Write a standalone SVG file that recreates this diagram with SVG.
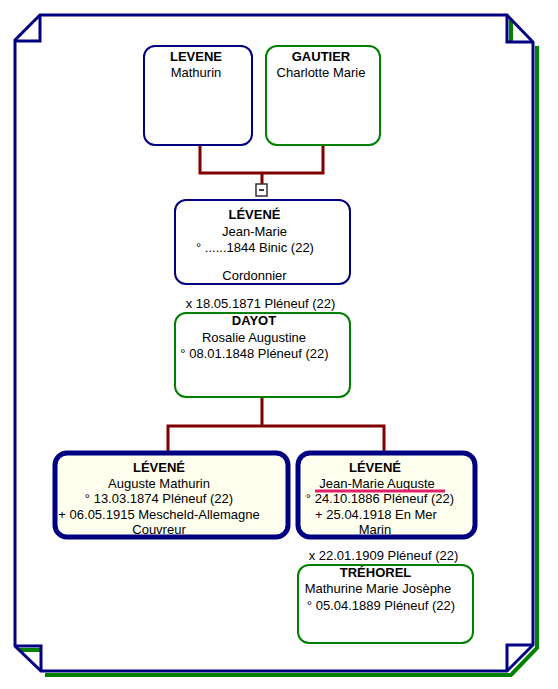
<svg xmlns="http://www.w3.org/2000/svg" width="558" height="689" viewBox="0 0 558 689">
<style>
  text { font-family: "Liberation Sans", Arial, sans-serif; font-size: 13px; fill: #000; text-anchor: middle; }
  .b { font-weight: bold; }
  .frame { fill: none; stroke: #000080; stroke-width: 3; stroke-linejoin: miter; }
  .shadow { fill: none; stroke: #008000; stroke-width: 4; }
  .conn { fill: none; stroke: #800000; stroke-width: 3; }
  .male { fill: none; stroke: #000080; stroke-width: 2; }
  .female { fill: none; stroke: #008000; stroke-width: 2; }
  .child { fill: none; stroke: #000080; stroke-width: 5; }
  .bg { fill: #ffffff; stroke: none; }
  .cream { fill: #fffff0; stroke: none; }
</style>
<rect width="558" height="689" fill="#ffffff"/>
<g id="frame">
  <polygon points="15,40 40,15 507,15 533,42 533,645 507,671 41,671 15,646" fill="#ffffff" stroke="none"/>
  <polyline class="shadow" points="537,46 537,648 511,675 45,675"/>
  <line class="shadow" x1="511" y1="19" x2="511" y2="42"/>
  <line class="shadow" x1="19" y1="650" x2="41" y2="650"/>
  <polygon class="frame" points="15,40 40,15 507,15 533,42 533,645 507,671 41,671 15,646"/>
  <polyline class="frame" points="40,15 40,41 15,41"/>
  <polyline class="frame" points="507,15 507,42 533,42"/>
  <polyline class="frame" points="533,645 507,645 507,671"/>
  <polyline class="frame" points="15,646 41,646 41,671"/>
</g>
<g id="connectors">
  <polyline class="conn" points="200,146 200,173 323,173 323,146"/>
  <line class="conn" x1="262" y1="173" x2="262" y2="184"/>
  <polyline class="conn" points="262,398 262,426"/>
  <polyline class="conn" points="168,452 168,426 384,426 384,452"/>
  <g id="collapse">
    <rect x="256" y="184" width="11" height="12" fill="#ffffff" stroke="#333333" stroke-width="1.5"/>
    <line x1="259" y1="190" x2="264" y2="190" stroke="#000" stroke-width="1.5"/>
  </g>
</g>
<g id="n-levene-mathurin">
  <rect class="bg" x="144" y="46" width="108" height="99" rx="11"/>
  <text class="b" x="196" y="61">LEVENE</text>
  <text x="196" y="77">Mathurin</text>
  <rect class="male" x="144" y="46" width="108" height="99" rx="11"/>
</g>
<g id="n-gautier-charlotte">
  <rect class="bg" x="266" y="46" width="114" height="99" rx="11"/>
  <text class="b" x="321" y="61">GAUTIER</text>
  <text x="321" y="77">Charlotte Marie</text>
  <rect class="female" x="266" y="46" width="114" height="99" rx="11"/>
</g>
<g id="n-levene-jean-marie">
  <rect class="bg" x="175" y="200" width="175" height="84" rx="11"/>
  <text class="b" x="254.5" y="219">LÉVENÉ</text>
  <text x="254.5" y="236">Jean-Marie</text>
  <text x="255" y="252">° ......1844 Binic (22)</text>
  <text x="254.5" y="280">Cordonnier</text>
  <rect class="male" x="175" y="200" width="175" height="84" rx="11"/>
</g>
<text id="m1" x="260.5" y="308">x 18.05.1871 Pléneuf (22)</text>
<g id="n-dayot-rosalie">
  <rect class="bg" x="175" y="313" width="175" height="84" rx="11"/>
  <text class="b" x="254" y="325">DAYOT</text>
  <text x="254" y="342">Rosalie Augustine</text>
  <text x="254.5" y="358">° 08.01.1848 Pléneuf (22)</text>
  <rect class="female" x="175" y="313" width="175" height="84" rx="11"/>
</g>
<g id="n-levene-auguste">
  <rect class="cream" x="55" y="453" width="233" height="84" rx="12"/>
  <text class="b" x="159" y="472">LÉVENÉ</text>
  <text x="159" y="487.5">Auguste Mathurin</text>
  <text x="159" y="503">° 13.03.1874 Pléneuf (22)</text>
  <text x="159" y="518.5">+ 06.05.1915 Mescheld-Allemagne</text>
  <text x="159" y="534">Couvreur</text>
  <rect class="child" x="55" y="453" width="233" height="84" rx="12"/>
</g>
<g id="n-levene-jean-marie-auguste">
  <rect class="cream" x="298" y="453" width="177" height="84" rx="12"/>
  <text class="b" x="375" y="472">LÉVENÉ</text>
  <text x="377" y="487.5">Jean-Marie Auguste</text>
  <line x1="315" y1="491" x2="445" y2="491" stroke="#e0206a" stroke-width="3"/>
  <text x="380" y="503">° 24.10.1886 Pléneuf (22)</text>
  <text x="376" y="518.5">+ 25.04.1918 En Mer</text>
  <text x="375" y="534">Marin</text>
  <rect class="child" x="298" y="453" width="177" height="84" rx="12"/>
</g>
<text id="m2" x="383.5" y="560">x 22.01.1909 Pléneuf (22)</text>
<g id="n-trehorel-mathurine">
  <rect class="bg" x="298" y="565" width="175" height="78" rx="11"/>
  <text class="b" x="375.5" y="577">TRÉHOREL</text>
  <text x="378" y="593">Mathurine Marie Josèphe</text>
  <text x="381" y="610">° 05.04.1889 Pléneuf (22)</text>
  <rect class="female" x="298" y="565" width="175" height="78" rx="11"/>
</g>
</svg>
